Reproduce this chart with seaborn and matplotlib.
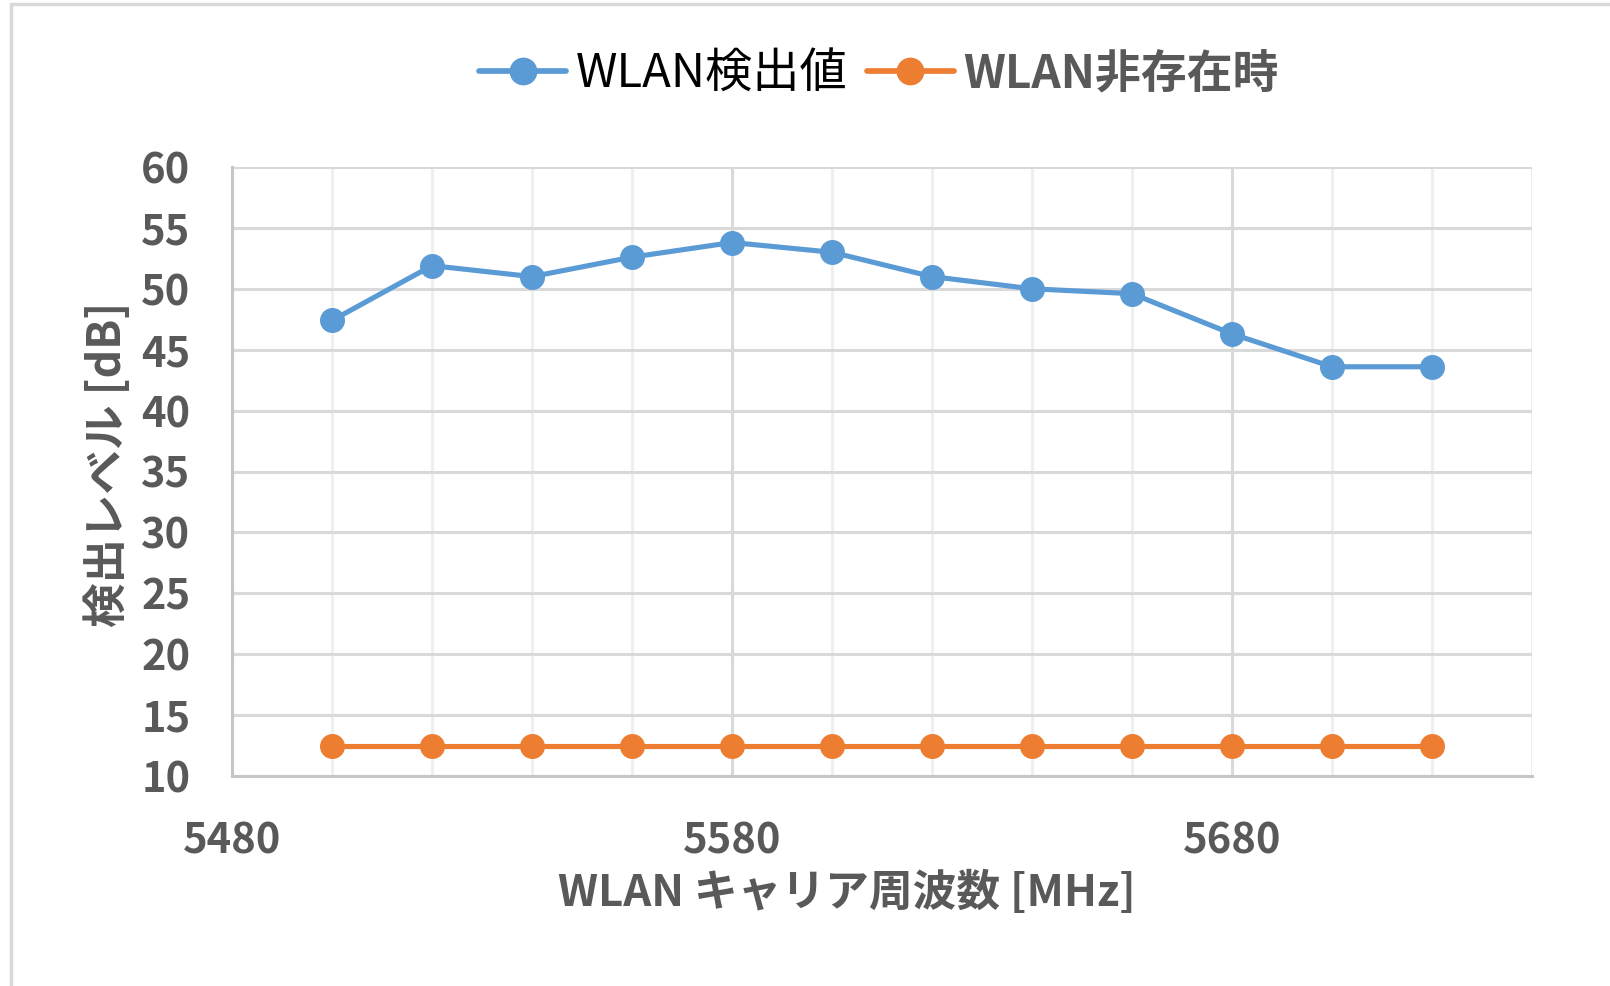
import matplotlib
matplotlib.use("Agg")
import matplotlib.pyplot as plt
from matplotlib.lines import Line2D
from matplotlib.patches import Rectangle
from matplotlib.ticker import MultipleLocator
import numpy as np
import pandas as pd
import seaborn as sns

# Carrier frequencies [MHz]
freq = [5500, 5520, 5540, 5560, 5580, 5600, 5620, 5640, 5660, 5680, 5700, 5720]
# Detected level with WLAN present [dB]
detected = [47.4, 51.9, 51.0, 52.6, 53.8, 53.0, 51.0, 50.0, 49.6, 46.3, 43.6, 43.6]
# Level without WLAN [dB]
absent = [12.5, 12.5, 12.5, 12.5, 12.5, 12.5, 12.5, 12.5, 12.5, 12.5, 12.5, 12.5]

series_names = ["WLAN検出値", "WLAN非存在時"]
colors = ["#5B9BD5", "#ED7D31"]
x_ticks = [5480, 5580, 5680]
x_label = "WLAN キャリア周波数 [MHz]"
y_label = "検出レベル [dB]"

df = pd.DataFrame({
    "freq": freq * 2,
    "level": detected + absent,
    "series": [series_names[0]] * len(freq) + [series_names[1]] * len(freq),
})

sns.set_theme(style="white")
plt.rcParams["font.family"] = ["Noto Sans CJK JP", "DejaVu Sans"]

W, H = 1610, 986
fig = plt.figure(figsize=(W / 100, H / 100), dpi=100)
ax = fig.add_axes([232 / W, 1 - 776 / H, (1532 - 232) / W, (776 - 167) / H])

LW, MS = 3.7, 18

sns.lineplot(
    data=df, x="freq", y="level", hue="series", hue_order=series_names,
    palette=colors, marker="o", markersize=MS, linewidth=LW,
    markeredgewidth=0, ax=ax, legend=False, zorder=3,
)

ax.set_xlim(5480, 5740)
ax.set_ylim(10, 60)
ax.set_xticks(x_ticks)
ax.xaxis.set_minor_locator(MultipleLocator(20))
ax.yaxis.set_major_locator(MultipleLocator(5))

ax.grid(which="major", axis="both", color="#d9d9d9", linewidth=2.2, zorder=0)
ax.grid(which="minor", axis="x", color="#efefef", linewidth=2.2, zorder=0)
ax.set_axisbelow(True)

for side in ["top", "right"]:
    ax.spines[side].set_visible(False)
for side in ["left", "bottom"]:
    ax.spines[side].set_color("#c6c6c6")
    ax.spines[side].set_linewidth(2.2)

tick_color = "#595959"
ax.tick_params(axis="both", which="both", length=0, labelsize=30,
               labelcolor=tick_color)
ax.tick_params(axis="y", pad=30)
ax.tick_params(axis="x", pad=32)
for lab in ax.get_xticklabels() + ax.get_yticklabels():
    lab.set_fontweight("bold")

ax.set_xlabel(x_label, fontsize=31.5, fontweight="bold", color=tick_color)
ax.set_ylabel(y_label, fontsize=32, fontweight="bold", color=tick_color)
ax.xaxis.set_label_coords((847 - 232) / (1532 - 232), -(893 - 776) / (776 - 167))
ax.yaxis.set_label_coords(-(232 - 108) / (1532 - 232), (776 - 464) / (776 - 167))
ax.xaxis.label.set_verticalalignment("center")
ax.yaxis.label.set_verticalalignment("center")

handles = [
    Line2D([], [], color=c, linewidth=LW + 0.4, marker="o", markersize=MS + 2,
           markeredgewidth=0)
    for c in colors
]
leg = fig.legend(
    handles, series_names, loc="center", bbox_to_anchor=(879 / W, 1 - 74 / H),
    ncol=2, frameon=False, fontsize=34, handlelength=1.85, handletextpad=0.2,
    columnspacing=0.4,
)
texts = leg.get_texts()
texts[0].set_color("#000000")
texts[1].set_color(tick_color)
texts[1].set_fontweight("bold")
texts[1].set_fontsize(33)

# Outer chart frame
fig.patches.append(Rectangle((11 / W, -0.05), 1.2, 1 - 4 / H + 0.05,
                             transform=fig.transFigure, fill=False,
                             edgecolor="#d9d9d9", linewidth=2.5))

fig.savefig("out.png", dpi=100, facecolor="white")
